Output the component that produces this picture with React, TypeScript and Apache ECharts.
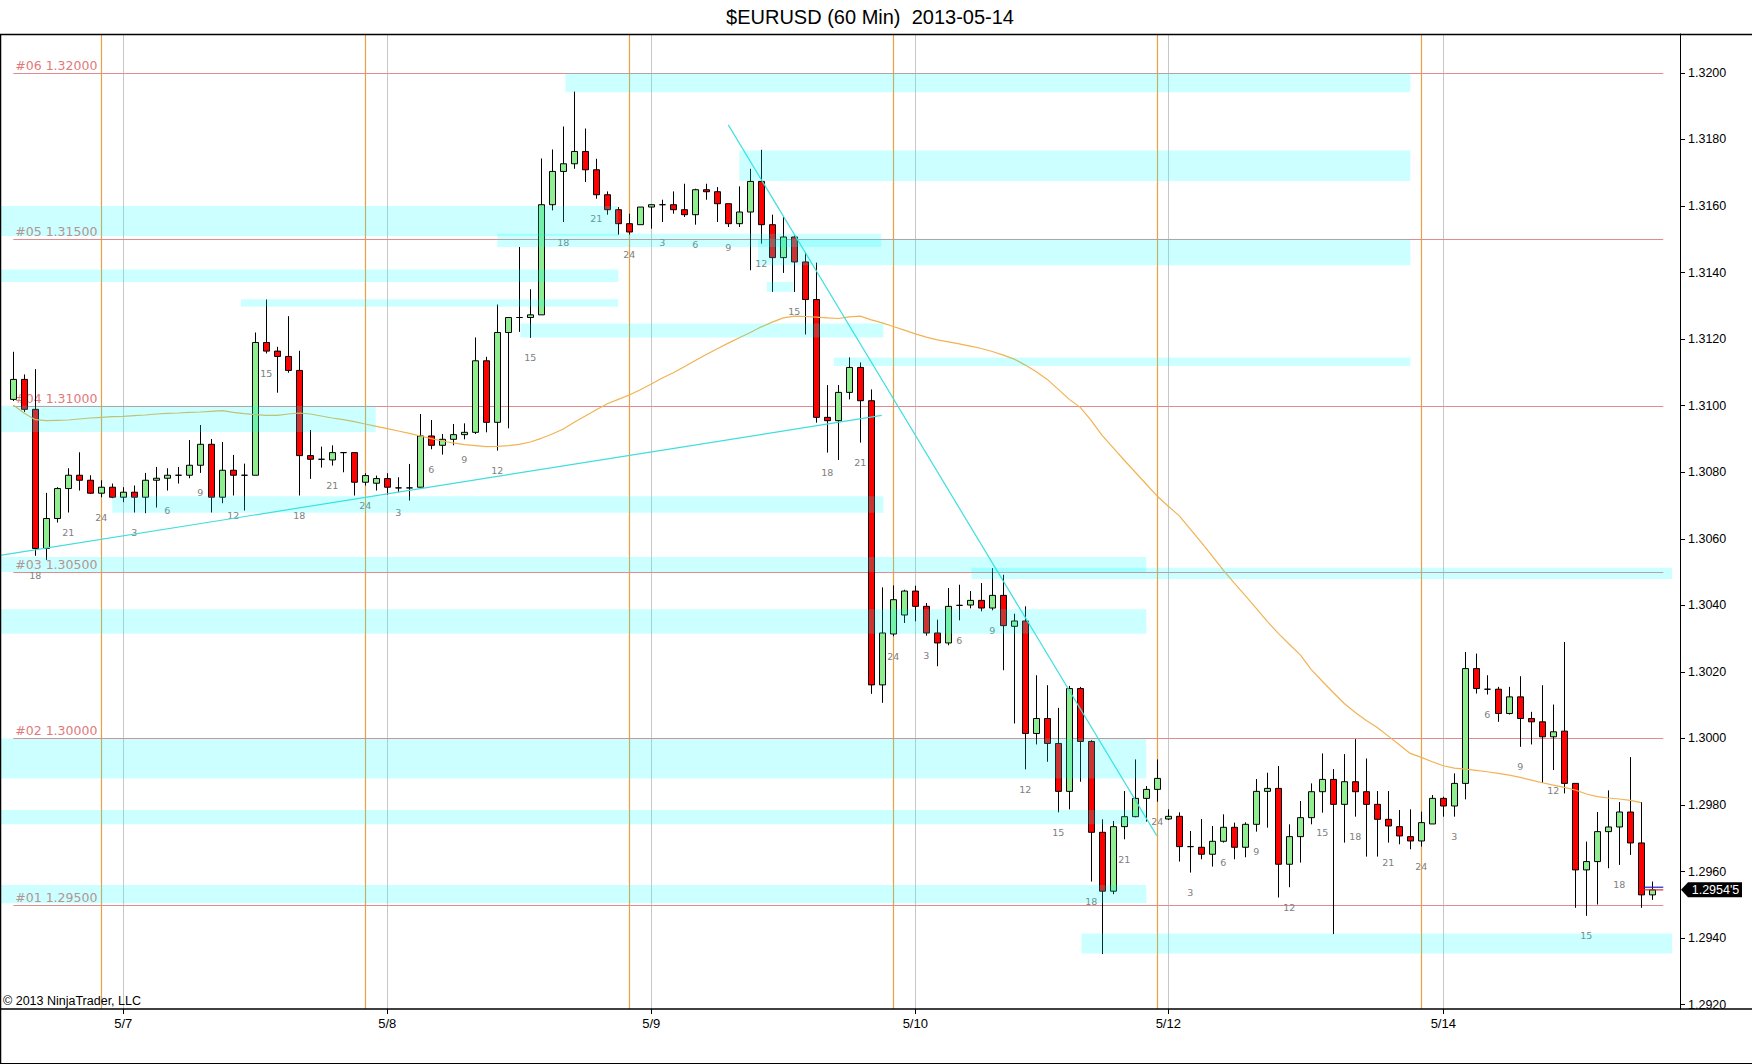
import React, { useEffect, useRef } from 'react';
import * as echarts from 'echarts';

const TITLE = '$EURUSD (60 Min)  2013-05-14';
const COPYRIGHT = '\u00A9 2013 NinjaTrader, LLC';
const FIRST_BAR_HOUR = 16;

// hourly bars: [open, close, low, high]
const bars: number[][] = [
  [1.31019, 1.31079, 1.31014, 1.31162],
  [1.31079, 1.30989, 1.30981, 1.31094],
  [1.30989, 1.30571, 1.30549, 1.3111],
  [1.30571, 1.30661, 1.30536, 1.30738],
  [1.30661, 1.30751, 1.30649, 1.30755],
  [1.30751, 1.30791, 1.30679, 1.30812],
  [1.30791, 1.30776, 1.30745, 1.3086],
  [1.30776, 1.30737, 1.30735, 1.30791],
  [1.30737, 1.30755, 1.30725, 1.30776],
  [1.30755, 1.30725, 1.30722, 1.30766],
  [1.30725, 1.3074, 1.3071, 1.30755],
  [1.3074, 1.30725, 1.30679, 1.3076],
  [1.30725, 1.30776, 1.30677, 1.30798],
  [1.30776, 1.30782, 1.30694, 1.30816],
  [1.30782, 1.30791, 1.30745, 1.30812],
  [1.30791, 1.30791, 1.30766, 1.30816],
  [1.30791, 1.30821, 1.30782, 1.30897],
  [1.30821, 1.30884, 1.30798, 1.30942],
  [1.30884, 1.30725, 1.30679, 1.309],
  [1.30725, 1.30806, 1.30707, 1.30891],
  [1.30806, 1.30791, 1.3073, 1.30852],
  [1.30791, 1.30791, 1.30685, 1.30826],
  [1.30791, 1.3119, 1.30791, 1.3122],
  [1.3119, 1.31164, 1.31157, 1.31319],
  [1.31164, 1.31148, 1.31039, 1.31177],
  [1.31148, 1.31106, 1.31099, 1.31269],
  [1.31106, 1.3085, 1.3073, 1.31165],
  [1.3085, 1.30839, 1.3078, 1.30927],
  [1.30839, 1.30839, 1.30814, 1.30877],
  [1.30837, 1.30859, 1.3082, 1.30881],
  [1.30859, 1.30859, 1.308, 1.30859],
  [1.30859, 1.3077, 1.3073, 1.30859],
  [1.3077, 1.3079, 1.3076, 1.30797],
  [1.30767, 1.30781, 1.30745, 1.3079],
  [1.30781, 1.30755, 1.30732, 1.30797],
  [1.30753, 1.30753, 1.3074, 1.30785],
  [1.30753, 1.30753, 1.30715, 1.30825],
  [1.30755, 1.30909, 1.30755, 1.30975],
  [1.30909, 1.30881, 1.30869, 1.30957],
  [1.30881, 1.30899, 1.30853, 1.30915],
  [1.30899, 1.30913, 1.30881, 1.30945],
  [1.30913, 1.3092, 1.30899, 1.30947],
  [1.3092, 1.31135, 1.30915, 1.31205],
  [1.31135, 1.3095, 1.3092, 1.31147],
  [1.3095, 1.3122, 1.30865, 1.31304],
  [1.3122, 1.31265, 1.30932, 1.31265],
  [1.31265, 1.31265, 1.31222, 1.31477],
  [1.31265, 1.31273, 1.31204, 1.3135],
  [1.31273, 1.31604, 1.31273, 1.31743],
  [1.31604, 1.31704, 1.31587, 1.3177],
  [1.31704, 1.31727, 1.31552, 1.31839],
  [1.31727, 1.31764, 1.31712, 1.31944],
  [1.31764, 1.31709, 1.31672, 1.31833],
  [1.31709, 1.31634, 1.31622, 1.31742],
  [1.31634, 1.31589, 1.31574, 1.31644],
  [1.31589, 1.31547, 1.31514, 1.31597],
  [1.31547, 1.31522, 1.31514, 1.31577],
  [1.31544, 1.31597, 1.31544, 1.31597],
  [1.31597, 1.31604, 1.31532, 1.31605],
  [1.31604, 1.31604, 1.31552, 1.31619],
  [1.31604, 1.31589, 1.31577, 1.31644],
  [1.31589, 1.31574, 1.31567, 1.31667],
  [1.31574, 1.31649, 1.31544, 1.31652],
  [1.31649, 1.31643, 1.31619, 1.31667],
  [1.31643, 1.31607, 1.31552, 1.31657],
  [1.31607, 1.31547, 1.31537, 1.31607],
  [1.31547, 1.31582, 1.31537, 1.31659],
  [1.31582, 1.31674, 1.31407, 1.31712],
  [1.31674, 1.31544, 1.31487, 1.31769],
  [1.31544, 1.31445, 1.31342, 1.31574],
  [1.31445, 1.31507, 1.31399, 1.31567],
  [1.31507, 1.31432, 1.31342, 1.31512],
  [1.31432, 1.31319, 1.31214, 1.31462],
  [1.31319, 1.30965, 1.30949, 1.3143],
  [1.30965, 1.30955, 1.30859, 1.31062],
  [1.30955, 1.3104, 1.30837, 1.31062],
  [1.3104, 1.31115, 1.31019, 1.31145],
  [1.31115, 1.31015, 1.30889, 1.3113],
  [1.31015, 1.30161, 1.30134, 1.31049],
  [1.30161, 1.30317, 1.30107, 1.30454],
  [1.30314, 1.30417, 1.30307, 1.3046],
  [1.30371, 1.30443, 1.30347, 1.30447],
  [1.30443, 1.30397, 1.30352, 1.30459],
  [1.30397, 1.30317, 1.30309, 1.30407],
  [1.30317, 1.30287, 1.30217, 1.30357],
  [1.30287, 1.30397, 1.3028, 1.30452],
  [1.304, 1.304, 1.30355, 1.30462],
  [1.30401, 1.30415, 1.30391, 1.30443],
  [1.30415, 1.30392, 1.30382, 1.30467],
  [1.30392, 1.3043, 1.30385, 1.30512],
  [1.3043, 1.30339, 1.30205, 1.30492],
  [1.30337, 1.30353, 1.30045, 1.30375],
  [1.30353, 1.30015, 1.29907, 1.30397],
  [1.30015, 1.3006, 1.29982, 1.3019],
  [1.3006, 1.29985, 1.2993, 1.3016],
  [1.29985, 1.29841, 1.29778, 1.30092],
  [1.29841, 1.3015, 1.29787, 1.30158],
  [1.3015, 1.29991, 1.2987, 1.30155],
  [1.29991, 1.29718, 1.2957, 1.29995],
  [1.29718, 1.29541, 1.29352, 1.29757],
  [1.29541, 1.29735, 1.29532, 1.29752],
  [1.29735, 1.29765, 1.29697, 1.29842],
  [1.29765, 1.2982, 1.29763, 1.29937],
  [1.2982, 1.29847, 1.2975, 1.29857],
  [1.29847, 1.2988, 1.2981, 1.29937],
  [1.29758, 1.29766, 1.29755, 1.29787],
  [1.29766, 1.29675, 1.2963, 1.29778],
  [1.29675, 1.29675, 1.29597, 1.29722],
  [1.29673, 1.29652, 1.29637, 1.29758],
  [1.29652, 1.29691, 1.29615, 1.29737],
  [1.29691, 1.29733, 1.29687, 1.29772],
  [1.29733, 1.29673, 1.29637, 1.29747],
  [1.29673, 1.29742, 1.29643, 1.29748],
  [1.29742, 1.29841, 1.2972, 1.29878],
  [1.29841, 1.2985, 1.29732, 1.29897],
  [1.2985, 1.29622, 1.29522, 1.29917],
  [1.29622, 1.29705, 1.29553, 1.29742],
  [1.29705, 1.29762, 1.29627, 1.29812],
  [1.29762, 1.2984, 1.29742, 1.29865],
  [1.2984, 1.29877, 1.29777, 1.29955],
  [1.29877, 1.29802, 1.29412, 1.29908],
  [1.29802, 1.2987, 1.29687, 1.29953],
  [1.2987, 1.2984, 1.29765, 1.29998],
  [1.2984, 1.29802, 1.29645, 1.2994],
  [1.29802, 1.29757, 1.29645, 1.29842],
  [1.29757, 1.29737, 1.29687, 1.29842],
  [1.29735, 1.29707, 1.29682, 1.29785],
  [1.29705, 1.29692, 1.29667, 1.29787],
  [1.29692, 1.29747, 1.29675, 1.2978],
  [1.29743, 1.2982, 1.29743, 1.2983],
  [1.2982, 1.29797, 1.29765, 1.29825],
  [1.29797, 1.29865, 1.29765, 1.29895],
  [1.29865, 1.3021, 1.29817, 1.3026],
  [1.3021, 1.3015, 1.30135, 1.30255],
  [1.30148, 1.30148, 1.30132, 1.3019],
  [1.30148, 1.30075, 1.3005, 1.30155],
  [1.30075, 1.30125, 1.30072, 1.30155],
  [1.30125, 1.3006, 1.29975, 1.30187],
  [1.3006, 1.3005, 1.29982, 1.3008],
  [1.3005, 1.30005, 1.29867, 1.3016],
  [1.30005, 1.3002, 1.29905, 1.30102],
  [1.30022, 1.29865, 1.29835, 1.3029],
  [1.29865, 1.29605, 1.29491, 1.29865],
  [1.29605, 1.2963, 1.29467, 1.2969],
  [1.2963, 1.2972, 1.29501, 1.29779],
  [1.2972, 1.29734, 1.2961, 1.29844],
  [1.29734, 1.29779, 1.2962, 1.29809],
  [1.29779, 1.29686, 1.2965, 1.29944],
  [1.29686, 1.2953, 1.29491, 1.29809],
  [1.2953, 1.29545, 1.29515, 1.2957],
];

// moving average, one value per bar (last bar has none)
const movingAvg: number[] = [
  1.31002, 1.30977, 1.30958, 1.30955, 1.30956, 1.30957, 1.3096, 1.30963, 1.30965, 1.30967,
  1.30968, 1.3097, 1.30972, 1.30975, 1.30977, 1.30978, 1.3098, 1.30981, 1.30983, 1.30985,
  1.3098, 1.30976, 1.30973, 1.30971, 1.30971, 1.30975, 1.30978, 1.30975, 1.30969, 1.30963,
  1.30958, 1.30952, 1.30945, 1.30938, 1.30931, 1.30924, 1.30917, 1.30909, 1.30901, 1.30894,
  1.30888, 1.30883, 1.3088, 1.30877, 1.30878, 1.3088, 1.30884, 1.30891, 1.30902, 1.30915,
  1.3093, 1.3095, 1.30969, 1.30988, 1.31006, 1.31019, 1.31032, 1.31048, 1.31065, 1.31083,
  1.31099, 1.31117, 1.31136, 1.31154, 1.31171, 1.31188, 1.31204, 1.3122, 1.31237, 1.31251,
  1.31264, 1.31269, 1.31268, 1.31266, 1.31264, 1.31262, 1.31267, 1.31269, 1.31258, 1.31249,
  1.31238, 1.31227, 1.31216, 1.31206, 1.31198, 1.31192, 1.31186, 1.31179, 1.31172, 1.31163,
  1.31152, 1.3114, 1.31122, 1.31102, 1.31079, 1.31049, 1.31019, 1.30995, 1.30955, 1.3091,
  1.30873, 1.30836, 1.308, 1.30764, 1.30728, 1.30698, 1.30669, 1.30629, 1.30589, 1.30548,
  1.30506, 1.30467, 1.30429, 1.30391, 1.30352, 1.30316, 1.30283, 1.30251, 1.30207, 1.30172,
  1.30138, 1.30105, 1.30078, 1.30054, 1.30033, 1.30007, 1.29981, 1.29955, 1.29943, 1.2993,
  1.29918, 1.29911, 1.29908, 1.29904, 1.299, 1.29895, 1.2989, 1.29883, 1.29875, 1.29867,
  1.2986, 1.29853, 1.29845, 1.29833, 1.29825, 1.29821, 1.29818, 1.29814, 1.29807,
];

// date separators (bar index) and their labels
const dateTickIdx = [10, 34, 58, 82, 105, 130];
const dateTickLabels = ['5/7', '5/8', '5/9', '5/10', '5/12', '5/14'];
// session breaks (bar index)
const sessionIdx = [8, 32, 56, 80, 104, 128];

// price levels
const levelPrices = [1.32, 1.315, 1.31, 1.305, 1.3, 1.295];
const levelNames = ['#06', '#05', '#04', '#03', '#02', '#01'];
const LEVEL_FROM = 0;
const LEVEL_TO = 150;

// y axis tick labels
const yTickValues = [1.292, 1.294, 1.296, 1.298, 1.3, 1.302, 1.304, 1.306, 1.308, 1.31, 1.312, 1.314, 1.316, 1.318, 1.32];

// zones: [fromBar, toBar, lowPrice, highPrice] (-1.2 = chart's left edge)
const zones: number[][] = [
  [50.2, 127.0, 1.31942, 1.32],
  [66.0, 127.0, 1.31675, 1.31767],
  [-1.2, 55.0, 1.3151, 1.316],
  [44.0, 78.9, 1.31477, 1.31517],
  [67.7, 127.0, 1.31422, 1.31502],
  [68.5, 70.9, 1.31342, 1.31372],
  [-1.2, 55.0, 1.31372, 1.31409],
  [20.7, 55.0, 1.31297, 1.3132],
  [46.1, 79.1, 1.31205, 1.31247],
  [74.6, 127.0, 1.31119, 1.31145],
  [-1.2, 32.95, 1.30921, 1.31],
  [9.0, 79.1, 1.30678, 1.30728],
  [-1.2, 103.0, 1.305, 1.30545],
  [87.1, 150.8, 1.30479, 1.30513],
  [-1.2, 103.0, 1.30315, 1.30388],
  [-1.2, 103.0, 1.2988, 1.3],
  [-1.2, 103.0, 1.29742, 1.29785],
  [-1.2, 103.0, 1.29505, 1.2956],
  [97.1, 150.8, 1.29354, 1.29414],
];

// trend lines: two points each [bar, price]
const trendUp = [[-1.21, 1.3055], [78.95, 1.30971]];
const trendDown = [[65.0, 1.31844], [103.95, 1.29708]];

const lastBid = 1.29545;
const lastAsk = 1.29553;

const X_MIN = -1.118;
const X_MAX = 151.52;
const Y_MIN = 1.29187;
const Y_MAX = 1.32117;

const hourOf = (i: number) => {
  const h = (FIRST_BAR_HOUR + i) % 24;
  return h === 0 ? 24 : h;
};

const SANS = '"Liberation Sans", Arial, sans-serif';
const VERD = '"DejaVu Sans", Verdana, sans-serif';

export default function App() {
  const ref = useRef<HTMLDivElement>(null);

  useEffect(() => {
    document.body.style.margin = '0';
    const chart = echarts.init(ref.current!, null, { renderer: 'svg' });

    const lastIdx = bars.length - 1;
    const candleData = bars.map((b, i) => [i, b[0], b[1], b[2], b[3]]);
    const hourData = bars
      .map((b, i) => [i, b[2], hourOf(i)])
      .filter((d) => d[2] % 3 === 0 && d[0] < lastIdx);
    const maData = movingAvg.map((v, i) => [i, v]);

    const option: any = {
      animation: false,
      backgroundColor: '#ffffff',
      grid: { left: 1, right: 72, top: 34, bottom: 55, containLabel: false, outerBoundsMode: 'none' },
      xAxis: {
        type: 'value',
        min: X_MIN,
        max: X_MAX,
        axisLine: { show: false, onZero: false },
        axisTick: { show: true, customValues: dateTickIdx, length: 5, lineStyle: { color: '#000', width: 1 } },
        axisLabel: {
          customValues: dateTickIdx,
          formatter: (v: number) => {
            const k = dateTickIdx.indexOf(Math.round(v));
            return k >= 0 ? dateTickLabels[k] : '';
          },
          color: '#000',
          fontSize: 13,
          fontFamily: SANS,
          margin: 8,
        },
        splitLine: { show: false },
      },
      yAxis: {
        type: 'value',
        position: 'right',
        min: Y_MIN,
        max: Y_MAX,
        axisLine: { show: true, onZero: false, lineStyle: { color: '#000', width: 1 } },
        axisTick: { show: true, customValues: yTickValues, length: 5, lineStyle: { color: '#000' } },
        axisLabel: {
          customValues: yTickValues,
          formatter: (v: number) => v.toFixed(4),
          color: '#000',
          fontSize: 12.5,
          fontFamily: SANS,
          margin: 8,
        },
        splitLine: { show: false },
      },
      graphic: [
        { type: 'text', x: 870, y: 17, z: 100, style: { text: TITLE, font: `20px ${SANS}`, fill: '#000', align: 'center', verticalAlign: 'middle' } },
        { type: 'text', x: 3, y: 1001, z: 100, style: { text: COPYRIGHT, font: `12.5px ${SANS}`, fill: '#000', align: 'left', verticalAlign: 'middle' } },
        { type: 'line', z: 100, shape: { x1: 0, y1: 34.5, x2: 1752, y2: 34.5 }, style: { stroke: '#000', lineWidth: 1.5 } },
        { type: 'line', z: 100, shape: { x1: 0, y1: 1009, x2: 1752, y2: 1009 }, style: { stroke: '#000', lineWidth: 1.5 } },
        { type: 'line', z: 100, shape: { x1: 0.5, y1: 34, x2: 0.5, y2: 1064 }, style: { stroke: '#000', lineWidth: 1.5 } },
        { type: 'line', z: 100, shape: { x1: 0, y1: 1063.5, x2: 1752, y2: 1063.5 }, style: { stroke: '#000', lineWidth: 1 } },
      ],
      series: [
        {
          type: 'custom',
          name: 'dates',
          z: 1,
          silent: true,
          data: dateTickIdx.map((i) => [i, Y_MAX]),
          encode: { x: 0, y: 1 },
          renderItem: (params: any, api: any) => {
            const cs = params.coordSys;
            const x = Math.round(api.coord([api.value(0), Y_MAX])[0]) + 0.5;
            return { type: 'line', shape: { x1: x, y1: cs.y, x2: x, y2: cs.y + cs.height }, style: { stroke: '#c8c8c8', lineWidth: 1 } };
          },
        },
        {
          type: 'custom',
          name: 'sessions',
          z: 1,
          silent: true,
          data: sessionIdx.map((i) => [i, Y_MAX]),
          encode: { x: 0, y: 1 },
          renderItem: (params: any, api: any) => {
            const cs = params.coordSys;
            const x = Math.round(api.coord([api.value(0), Y_MAX])[0]) + 0.5;
            return { type: 'line', shape: { x1: x, y1: cs.y, x2: x, y2: cs.y + cs.height }, style: { stroke: '#eba040', lineWidth: 1.2 } };
          },
        },
        {
          type: 'custom',
          name: 'levels',
          z: 1,
          silent: true,
          data: levelPrices.map((p) => [LEVEL_FROM, p]),
          encode: { x: 0, y: 1 },
          renderItem: (params: any, api: any) => {
            const p = api.value(1);
            const a = api.coord([LEVEL_FROM, p]);
            const b = api.coord([LEVEL_TO, p]);
            const y = Math.round(a[1]) + 0.5;
            return {
              type: 'group',
              children: [
                { type: 'line', shape: { x1: a[0], y1: y, x2: b[0], y2: y }, style: { stroke: '#e08c8c', lineWidth: 1 } },
                {
                  type: 'text',
                  x: a[0] + 2,
                  y: y - 2,
                  style: { text: levelNames[params.dataIndex] + ' ' + p.toFixed(5), font: `12.5px ${VERD}`, fill: '#e07a7a', align: 'left', verticalAlign: 'bottom' },
                },
              ],
            };
          },
        },
        {
          type: 'candlestick',
          name: 'EURUSD',
          z: 3,
          data: candleData,
          barWidth: 7,
          itemStyle: {
            color: '#90ee90',
            color0: '#ff0000',
            borderColor: '#000000',
            borderColor0: '#000000',
            borderColorDoji: '#000000',
            borderWidth: 1,
          },
        },
        {
          type: 'custom',
          name: 'hours',
          z: 3,
          silent: true,
          data: hourData,
          encode: { x: 0, y: 1 },
          renderItem: (params: any, api: any) => {
            const p = api.coord([api.value(0), api.value(1)]);
            return {
              type: 'text',
              x: p[0],
              y: p[1] + 20,
              style: { text: String(api.value(2)), font: `9.5px ${VERD}`, fill: '#808080', align: 'center', verticalAlign: 'middle' },
            };
          },
        },
        {
          type: 'line',
          name: 'MA',
          z: 4,
          data: maData,
          showSymbol: false,
          symbol: 'none',
          silent: true,
          lineStyle: { color: '#f2b252', width: 1.2 },
        },
        {
          type: 'line',
          name: 'trendUp',
          z: 4,
          data: trendUp,
          showSymbol: false,
          symbol: 'none',
          silent: true,
          lineStyle: { color: '#3fdede', width: 1.2 },
        },
        {
          type: 'line',
          name: 'trendDown',
          z: 4,
          data: trendDown,
          showSymbol: false,
          symbol: 'none',
          silent: true,
          lineStyle: { color: '#3fdede', width: 1.2 },
        },
        {
          type: 'custom',
          name: 'zones',
          z: 10,
          silent: true,
          data: zones,
          encode: { x: [0, 1], y: [2, 3] },
          renderItem: (params: any, api: any) => {
            const cs = params.coordSys;
            const p0 = api.coord([api.value(0), api.value(3)]);
            const p1 = api.coord([api.value(1), api.value(2)]);
            const x0 = Math.max(p0[0], cs.x);
            const x1 = Math.min(p1[0], cs.x + cs.width);
            return {
              type: 'rect',
              shape: { x: x0, y: p0[1], width: Math.max(0, x1 - x0), height: p1[1] - p0[1] },
              style: { fill: 'rgba(0,255,255,0.2)' },
            };
          },
        },
        {
          type: 'custom',
          name: 'lastPrice',
          z: 11,
          silent: true,
          clip: false,
          data: [[lastIdx, lastBid, lastAsk]],
          encode: { x: 0, y: 1 },
          renderItem: (params: any, api: any) => {
            const cs = params.coordSys;
            const idx = api.value(0);
            const bid = api.value(1);
            const ask = api.value(2);
            const pb = api.coord([idx, bid]);
            const pa = api.coord([idx, ask]);
            const xl = api.coord([idx - 0.8, bid])[0];
            const xr = api.coord([idx + 1, bid])[0];
            const ax = cs.x + cs.width;
            const y = pb[1];
            const s = bid.toFixed(5);
            const label = s.slice(0, 6) + "'" + s.slice(6);
            return {
              type: 'group',
              children: [
                { type: 'line', shape: { x1: xl, y1: pa[1], x2: xr, y2: pa[1] }, style: { stroke: '#2020d0', lineWidth: 1.2 } },
                { type: 'line', shape: { x1: xl, y1: y, x2: xr, y2: y }, style: { stroke: '#e03030', lineWidth: 1.2 } },
                {
                  type: 'polygon',
                  shape: { points: [[ax + 1, y], [ax + 8, y - 7.5], [ax + 62, y - 7.5], [ax + 62, y + 7.5], [ax + 8, y + 7.5]] },
                  style: { fill: '#000' },
                },
                {
                  type: 'text',
                  x: ax + 35.5,
                  y: y,
                  style: { text: label, font: `12.5px ${SANS}`, fill: '#fff', align: 'center', verticalAlign: 'middle' },
                },
              ],
            };
          },
        },
      ],
    };

    chart.setOption(option);
    return () => {
      chart.dispose();
    };
  }, []);

  return (
    <div
      ref={ref}
      style={{ position: 'absolute', left: 0, top: 0, width: 1752, height: 1064, background: '#fff' }}
    />
  );
}
